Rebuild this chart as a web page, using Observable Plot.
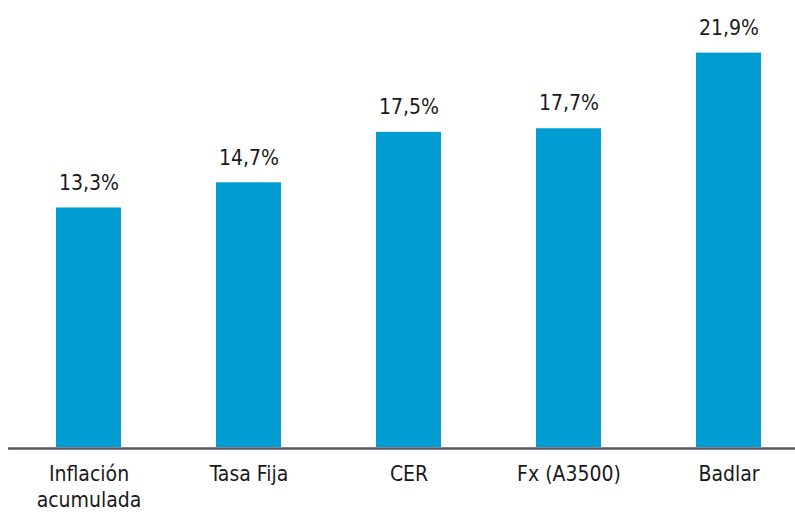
<!DOCTYPE html>
<html>
<head>
<meta charset="utf-8">
<script src="https://cdn.jsdelivr.net/npm/d3@7"></script>
<script src="https://cdn.jsdelivr.net/npm/@observablehq/plot@0.6"></script>
<style>
  html, body { margin: 0; padding: 0; background: #fff; }
  #chart svg { display: block; }
</style>
</head>
<body>
<div id="chart"></div>
<script>
// Rendimiento acumulado por tipo de instrumento (%)
const categories = ["Inflación\nacumulada", "Tasa Fija", "CER", "Fx (A3500)", "Badlar"];
const values = [13.3, 14.7, 17.5, 17.7, 21.9];
const valueLabels = ["13,3%", "14,7%", "17,5%", "17,7%", "21,9%"];

const data = categories.map((c, i) => ({ category: c, value: values[i], label: valueLabels[i] }));

const font = "'Liberation Sans Narrow', 'DejaVu Sans Condensed', sans-serif";

const chart = Plot.plot({
  width: 795,
  height: 515,
  marginLeft: 8,
  marginRight: 0,
  marginTop: 0,
  marginBottom: 0,
  style: { fontFamily: font, background: "#fff" },
  x: { domain: categories, range: [8.5, 808.5], paddingInner: 0.594, paddingOuter: 0.297, axis: null },
  y: { domain: [0, 24], range: [447, 14.8], axis: null },
  marks: [
    Plot.barY(data, { x: "category", y: "value", fill: "#009dd2" }),
    Plot.ruleY([0], { stroke: "#5a5a62", strokeWidth: 2.5, dy: 1 }),
    Plot.text(data, {
      x: "category", y: "value", text: "label",
      dy: -25, fontSize: 21, fill: "#1a1a1a"
    }),
    Plot.text(data, {
      x: "category", y: 0, text: "category",
      dy: 14, fontSize: 21, fill: "#1a1a1a", lineAnchor: "top", lineHeight: 1.28
    })
  ]
});

document.getElementById("chart").append(chart);
</script>
</body>
</html>
